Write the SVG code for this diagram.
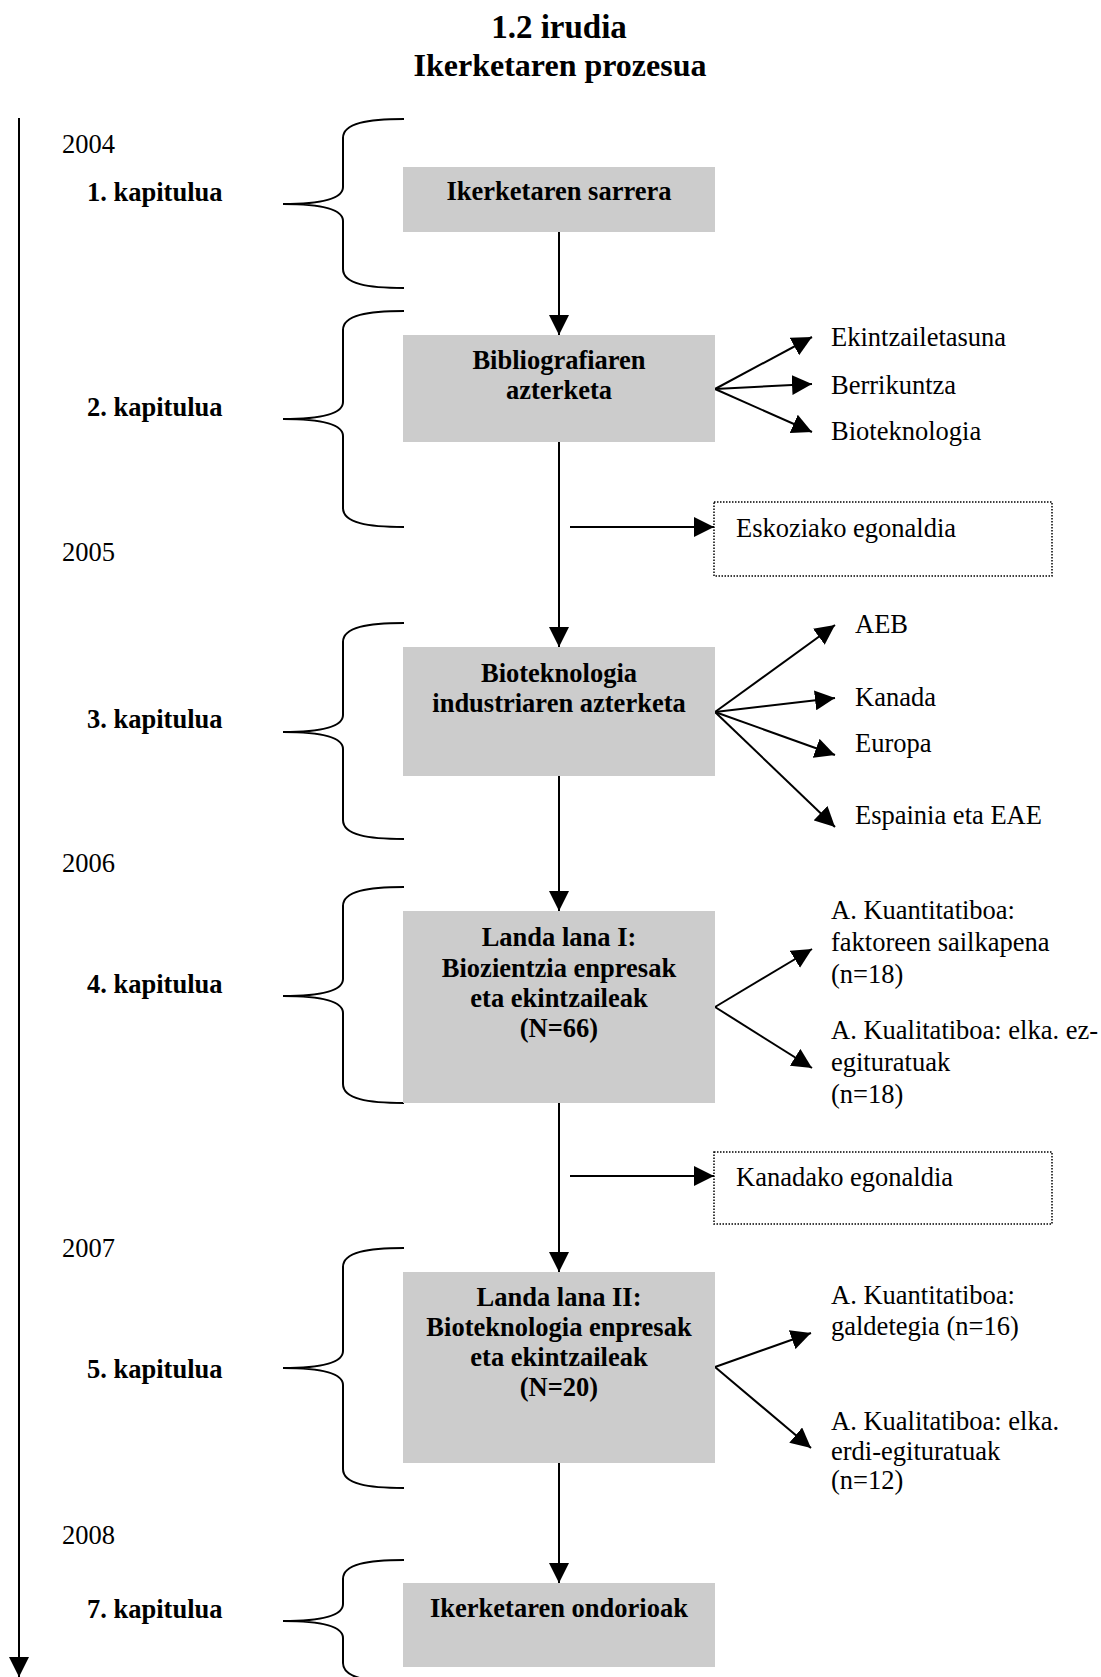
<svg xmlns="http://www.w3.org/2000/svg" width="1101" height="1677" viewBox="0 0 1101 1677">
<defs>
<style>
text{font-family:"Liberation Serif","Times New Roman",serif;font-size:26.5px;fill:#000}
.b{font-weight:bold}
.t{font-weight:bold;font-size:32px}
.m{text-anchor:middle}
.box{fill:#cccccc}
.dot{fill:#fff;stroke:#000;stroke-width:1.5;stroke-dasharray:1.5 1.5}
.ln{fill:none;stroke:#000;stroke-width:2}
.br{fill:none;stroke:#000;stroke-width:2}
</style>
<marker id="ah" viewBox="0 0 20 20" refX="20" refY="10" markerWidth="20" markerHeight="20" markerUnits="userSpaceOnUse" orient="auto">
<path d="M0,0 L20,10 L0,20 z" fill="#000"/>
</marker>
</defs>
<rect width="1101" height="1677" fill="#fff"/>

<g id="title">
<text class="t m" x="559" y="38" style="font-size:33px">1.2 irudia</text>
<text class="t m" x="560" y="76">Ikerketaren prozesua</text>
</g>

<g id="timeline">
<line class="ln" x1="19" y1="118" x2="19" y2="1677" marker-end="url(#ah)"/>
<text x="62" y="153">2004</text>
<text x="62" y="561">2005</text>
<text x="62" y="872">2006</text>
<text x="62" y="1257">2007</text>
<text x="62" y="1544">2008</text>
</g>

<g id="chapters">
<text class="b" x="87" y="201">1. kapitulua</text>
<text class="b" x="87" y="416">2. kapitulua</text>
<text class="b" x="87" y="728">3. kapitulua</text>
<text class="b" x="87" y="993">4. kapitulua</text>
<text class="b" x="87" y="1378">5. kapitulua</text>
<text class="b" x="87" y="1618">7. kapitulua</text>
</g>

<g id="braces">
<path class="br" d="M404,119 C368,119 343,123 343,138 L343,187 C343,200 318,204 283,204 C318,204 343,208 343,221 L343,269 C343,284 368,288 404,288"/>
<path class="br" d="M404,311 C368,311 343,315 343,330 L343,402 C343,415 318,419 283,419 C318,419 343,423 343,436 L343,508 C343,523 368,527 404,527"/>
<path class="br" d="M404,623 C368,623 343,627 343,642 L343,715 C343,728 318,732 283,732 C318,732 343,736 343,749 L343,820 C343,835 368,839 404,839"/>
<path class="br" d="M404,887 C368,887 343,891 343,906 L343,979 C343,992 318,996 283,996 C318,996 343,1000 343,1013 L343,1084 C343,1099 368,1103 404,1103"/>
<path class="br" d="M404,1248 C368,1248 343,1252 343,1267 L343,1351 C343,1364 318,1368 283,1368 C318,1368 343,1372 343,1385 L343,1469 C343,1484 368,1488 404,1488"/>
<path class="br" d="M404,1560 C368,1560 343,1564 343,1579 L343,1604 C343,1617 318,1621 283,1621 C318,1621 343,1625 343,1638 L343,1663 C343,1678 368,1682 404,1682"/>
</g>

<g id="connectors">
<line class="ln" x1="559" y1="232" x2="559" y2="335" marker-end="url(#ah)"/>
<line class="ln" x1="559" y1="442" x2="559" y2="647" marker-end="url(#ah)"/>
<line class="ln" x1="559" y1="776" x2="559" y2="911" marker-end="url(#ah)"/>
<line class="ln" x1="559" y1="1103" x2="559" y2="1272" marker-end="url(#ah)"/>
<line class="ln" x1="559" y1="1463" x2="559" y2="1583" marker-end="url(#ah)"/>
<line class="ln" x1="570" y1="527" x2="714" y2="527" marker-end="url(#ah)"/>
<line class="ln" x1="570" y1="1176" x2="714" y2="1176" marker-end="url(#ah)"/>
<line class="ln" x1="715" y1="389" x2="812" y2="337" marker-end="url(#ah)"/>
<line class="ln" x1="715" y1="389" x2="812" y2="384" marker-end="url(#ah)"/>
<line class="ln" x1="715" y1="389" x2="812" y2="432" marker-end="url(#ah)"/>
<line class="ln" x1="715" y1="712" x2="835" y2="625" marker-end="url(#ah)"/>
<line class="ln" x1="715" y1="712" x2="835" y2="698" marker-end="url(#ah)"/>
<line class="ln" x1="715" y1="712" x2="835" y2="755" marker-end="url(#ah)"/>
<line class="ln" x1="715" y1="712" x2="835" y2="827" marker-end="url(#ah)"/>
<line class="ln" x1="715" y1="1007" x2="812" y2="949" marker-end="url(#ah)"/>
<line class="ln" x1="715" y1="1007" x2="812" y2="1068" marker-end="url(#ah)"/>
<line class="ln" x1="715" y1="1367" x2="811" y2="1333" marker-end="url(#ah)"/>
<line class="ln" x1="715" y1="1367" x2="811" y2="1448" marker-end="url(#ah)"/>
</g>

<g id="n1">
<rect class="box" x="403" y="167" width="312" height="65"/>
<text class="b m" x="559" y="200">Ikerketaren sarrera</text>
</g>
<g id="n2">
<rect class="box" x="403" y="335" width="312" height="107"/>
<text class="b m" x="559" y="369">Bibliografiaren</text>
<text class="b m" x="559" y="399">azterketa</text>
</g>
<g id="n2-topics">
<text x="831" y="346">Ekintzailetasuna</text>
<text x="831" y="394">Berrikuntza</text>
<text x="831" y="440">Bioteknologia</text>
</g>
<g id="stay1">
<rect class="dot" x="714" y="502" width="338" height="74"/>
<text x="736" y="537">Eskoziako egonaldia</text>
</g>
<g id="n3">
<rect class="box" x="403" y="647" width="312" height="129"/>
<text class="b m" x="559" y="682">Bioteknologia</text>
<text class="b m" x="559" y="712">industriaren azterketa</text>
</g>
<g id="n3-regions">
<text x="855" y="633">AEB</text>
<text x="855" y="706">Kanada</text>
<text x="855" y="752">Europa</text>
<text x="855" y="824">Espainia eta EAE</text>
</g>
<g id="n4">
<rect class="box" x="403" y="911" width="312" height="192"/>
<text class="b m" x="559" y="946">Landa lana I:</text>
<text class="b m" x="559" y="977">Biozientzia enpresak</text>
<text class="b m" x="559" y="1007">eta ekintzaileak</text>
<text class="b m" x="559" y="1037">(N=66)</text>
</g>
<g id="n4-methods">
<text x="831" y="919">A. Kuantitatiboa:</text>
<text x="831" y="951">faktoreen sailkapena</text>
<text x="831" y="983">(n=18)</text>
<text x="831" y="1039">A. Kualitatiboa: elka. ez-</text>
<text x="831" y="1071">egituratuak</text>
<text x="831" y="1103">(n=18)</text>
</g>
<g id="stay2">
<rect class="dot" x="714" y="1152" width="338" height="72"/>
<text x="736" y="1186">Kanadako egonaldia</text>
</g>
<g id="n5">
<rect class="box" x="403" y="1272" width="312" height="191"/>
<text class="b m" x="559" y="1306">Landa lana II:</text>
<text class="b m" x="559" y="1336">Bioteknologia enpresak</text>
<text class="b m" x="559" y="1366">eta ekintzaileak</text>
<text class="b m" x="559" y="1396">(N=20)</text>
</g>
<g id="n5-methods">
<text x="831" y="1304">A. Kuantitatiboa:</text>
<text x="831" y="1335">galdetegia (n=16)</text>
<text x="831" y="1430">A. Kualitatiboa: elka.</text>
<text x="831" y="1460">erdi-egituratuak</text>
<text x="831" y="1489">(n=12)</text>
</g>
<g id="n6">
<rect class="box" x="403" y="1583" width="312" height="84"/>
<text class="b m" x="559" y="1617">Ikerketaren ondorioak</text>
</g>
</svg>
